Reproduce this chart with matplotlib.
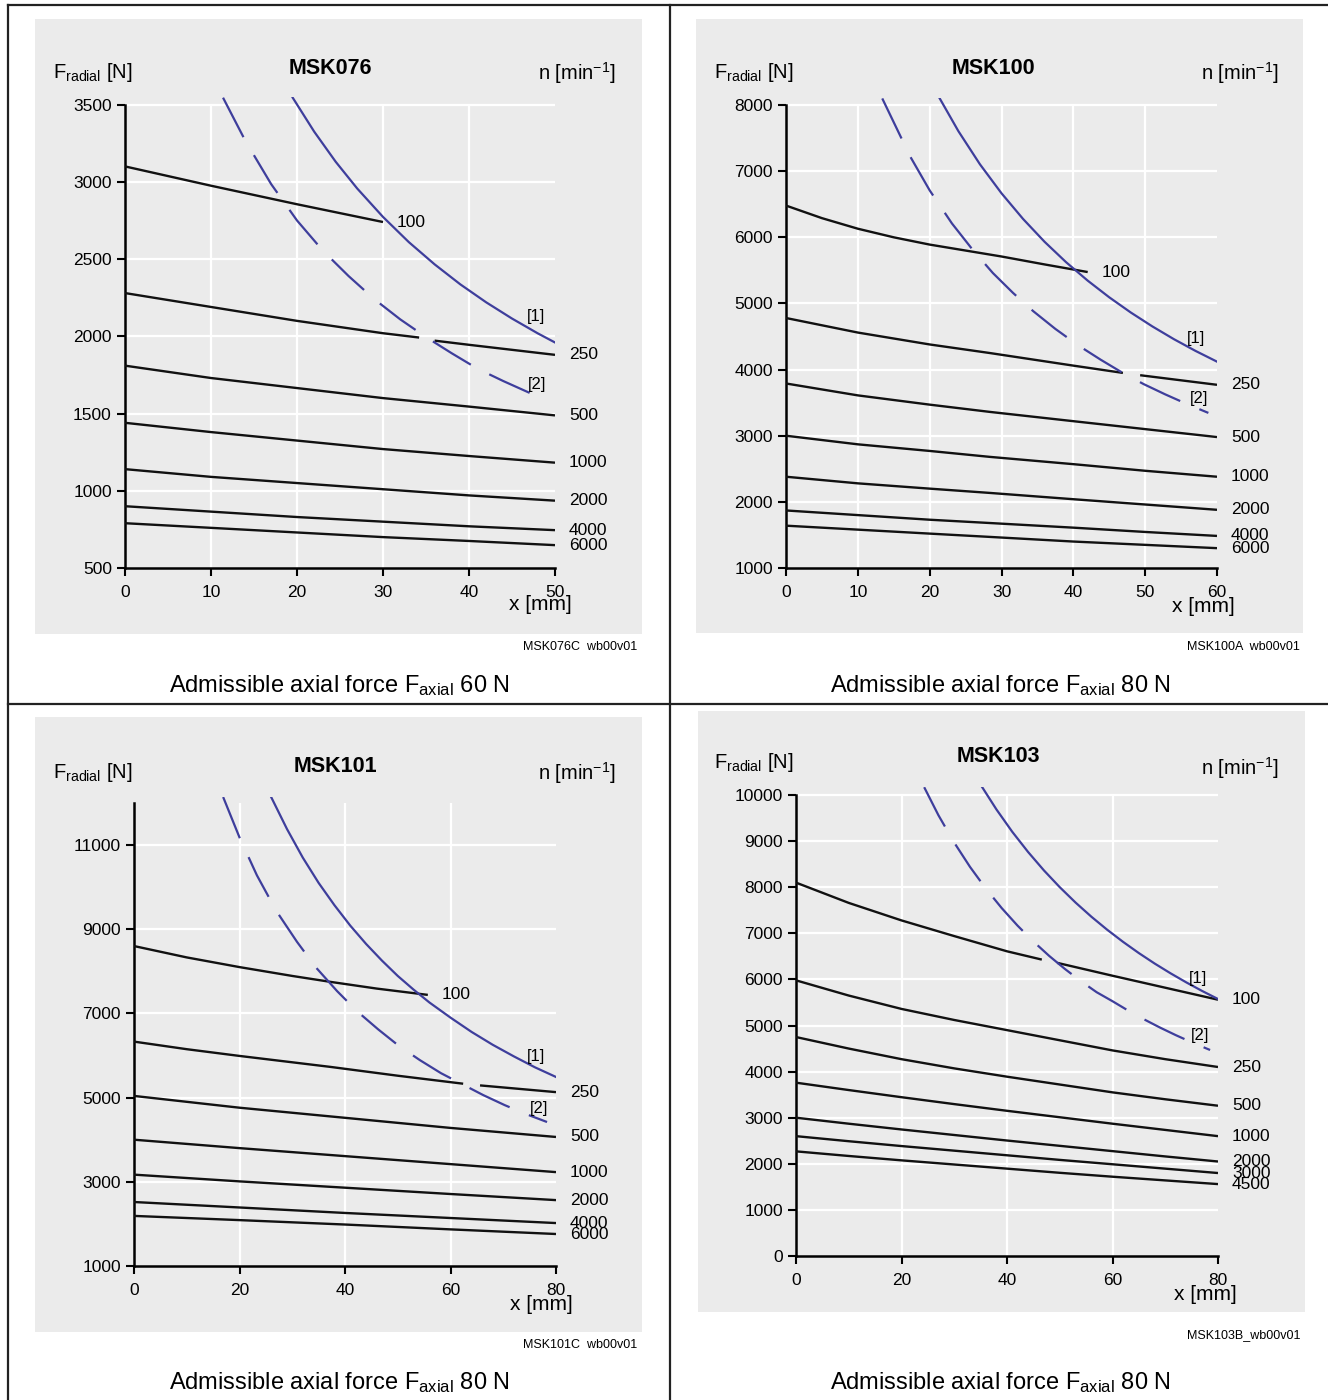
import numpy as np
import matplotlib
matplotlib.use('Agg')
import matplotlib.pyplot as plt
from matplotlib.patches import Rectangle
from matplotlib.lines import Line2D

nan = np.nan

plt.rcParams['font.family'] = 'Liberation Sans'
plt.rcParams['mathtext.fontset'] = 'custom'
plt.rcParams['mathtext.rm'] = 'Liberation Sans'
plt.rcParams['mathtext.it'] = 'Liberation Sans:italic'
plt.rcParams['mathtext.bf'] = 'Liberation Sans:bold'
plt.rcParams['lines.scale_dashes'] = False

# ---------------- data ----------------
# MSK076 (x 0..50 mm)
msk076_speeds = ['100', '250', '500', '1000', '2000', '4000', '6000']
msk076_x = [
    [0, 10, 20, 30],
    [0, 10, 20, 30, 34.2, nan, 36, 40, 50],
    [0, 10, 20, 30, 40, 50],
    [0, 10, 20, 30, 40, 50],
    [0, 10, 20, 30, 40, 50],
    [0, 10, 20, 30, 40, 50],
    [0, 10, 20, 30, 40, 50],
]
msk076_f = [
    [3100, 2975, 2855, 2740],
    [2280, 2190, 2100, 2020, 1992, nan, 1972, 1945, 1880],
    [1810, 1730, 1665, 1600, 1545, 1488],
    [1440, 1380, 1325, 1270, 1225, 1182],
    [1140, 1090, 1050, 1010, 970, 936],
    [900, 865, 830, 800, 770, 745],
    [790, 760, 730, 700, 675, 648],
]
msk076_b1_x = [19.5, 22, 24.5, 27, 30, 33, 36, 39, 42, 45, 48, 50]
msk076_b1_f = [3545, 3325, 3130, 2957, 2773, 2610, 2466, 2336, 2220, 2115, 2019, 1960]
msk076_b2_x = [11.4, 14, 17, 20, 23, 26, 29, 32, 35, 38, 41, 44, 47, 49.1]
msk076_b2_f = [3545, 3265, 2985, 2750, 2555, 2390, 2240, 2110, 1995, 1890, 1790, 1710, 1635, 1576]

# MSK100 (x 0..60 mm)
msk100_speeds = ['100', '250', '500', '1000', '2000', '4000', '6000']
msk100_x = [
    [0, 5, 10, 15, 20, 25, 30, 36, 42],
    [0, 10, 20, 28.4, 40, 46.9, nan, 49.3, 60],
    [0, 10, 20, 28.4, 40, 50, 60],
    [0, 10, 20, 28.4, 40, 50, 60],
    [0, 10, 20, 28.4, 40, 50, 60],
    [0, 10, 20, 28.4, 40, 50, 60],
    [0, 10, 20, 28.4, 40, 50, 60],
]
msk100_f = [
    [6480, 6290, 6130, 6000, 5890, 5800, 5710, 5590, 5475],
    [4780, 4560, 4380, 4250, 4060, 3950, nan, 3915, 3770],
    [3790, 3610, 3470, 3360, 3220, 3100, 2980],
    [3000, 2870, 2770, 2680, 2570, 2470, 2380],
    [2380, 2280, 2200, 2135, 2040, 1960, 1880],
    [1870, 1800, 1730, 1680, 1610, 1545, 1485],
    [1640, 1580, 1520, 1470, 1400, 1350, 1300],
]
msk100_b1_x = [21.4, 24, 27, 30, 33, 36, 39, 42, 45, 48, 51, 54, 57, 60]
msk100_b1_f = [8100, 7605, 7104, 6666, 6278, 5932, 5623, 5345, 5093, 4863, 4653, 4460, 4283, 4120]
msk100_b2_x = [13.4, 17.3, 20, 23.1, 26, 28.8, 31.6, 34.4, 37.5, 40.7, 43.8, 46.8, 49.8, 52.8, 55.8, 58.8]
msk100_b2_f = [8100, 7220, 6710, 6210, 5810, 5460, 5160, 4885, 4615, 4365, 4150, 3955, 3780, 3625, 3480, 3345]

# MSK101 (x 0..80 mm)
msk101_speeds = ['100', '250', '500', '1000', '2000', '4000', '6000']
msk101_x = [
    [0, 10, 20, 30, 37.2, 46, 55.7],
    [0, 10, 20, 37.2, 50, 62.4, nan, 65.6, 80],
    [0, 20, 40, 60, 80],
    [0, 20, 40, 60, 80],
    [0, 20, 40, 60, 80],
    [0, 20, 40, 60, 80],
    [0, 20, 40, 60, 80],
]
msk101_f = [
    [8600, 8330, 8100, 7890, 7750, 7590, 7440],
    [6330, 6150, 5990, 5730, 5520, 5330, nan, 5290, 5130],
    [5040, 4760, 4520, 4280, 4065],
    [4000, 3800, 3610, 3420, 3230],
    [3170, 3010, 2860, 2710, 2565],
    [2520, 2390, 2260, 2140, 2020],
    [2190, 2090, 1985, 1870, 1760],
]
msk101_b1_x = [26, 29, 32, 35, 38, 41, 44, 47, 50, 53, 56, 60, 64, 68, 72, 76, 80]
msk101_b1_f = [12140, 11380, 10700, 10100, 9570, 9085, 8650, 8255, 7890, 7565, 7260, 6900, 6560, 6255, 5980, 5720, 5490]
msk101_b2_x = [16.9, 20, 23.3, 27, 30.9, 34.5, 38.5, 42.3, 46.3, 50.2, 54.2, 58.2, 62.2, 66.2, 70.3, 74.3, 78.3]
msk101_b2_f = [12140, 11180, 10280, 9430, 8700, 8090, 7530, 7050, 6620, 6230, 5890, 5580, 5320, 5060, 4820, 4610, 4420]

# MSK103 (x 0..80 mm)
msk103_speeds = ['100', '250', '500', '1000', '2000', '3000', '4500']
msk103_x = [
    [0, 10, 20, 30, 40, 46.6, nan, 49.5, 60, 70, 80],
    [0, 10, 20, 30, 40, 50, 60, 70, 80],
    [0, 10, 20, 30, 40, 50, 60, 70, 80],
    [0, 10, 20, 30, 40, 50, 60, 70, 80],
    [0, 10, 20, 30, 40, 50, 60, 70, 80],
    [0, 10, 20, 30, 40, 50, 60, 70, 80],
    [0, 10, 20, 30, 40, 50, 60, 70, 80],
]
msk103_f = [
    [8100, 7660, 7280, 6940, 6610, 6430, nan, 6360, 6080, 5820, 5560],
    [5980, 5650, 5360, 5120, 4900, 4680, 4460, 4270, 4100],
    [4750, 4500, 4270, 4070, 3890, 3720, 3550, 3400, 3260],
    [3760, 3600, 3445, 3295, 3150, 3010, 2870, 2735, 2600],
    [3000, 2870, 2745, 2625, 2505, 2390, 2275, 2160, 2050],
    [2600, 2490, 2385, 2285, 2185, 2085, 1990, 1895, 1800],
    [2270, 2170, 2075, 1985, 1895, 1805, 1720, 1640, 1560],
]
msk103_b1_x = [35.3, 38, 41, 44, 47, 50, 53, 56, 59, 62, 65, 68, 71, 74, 77, 80]
msk103_b1_f = [10170, 9687, 9202, 8764, 8365, 8001, 7667, 7360, 7077, 6815, 6571, 6344, 6133, 5935, 5749, 5575]
msk103_b2_x = [24.3, 27, 30, 33, 36, 39, 42, 45, 48, 51, 54, 57, 60, 63, 66, 69, 72, 75, 78.5]
msk103_b2_f = [10170, 9562, 8967, 8439, 7969, 7547, 7167, 6823, 6510, 6225, 5963, 5722, 5527, 5322, 5133, 4956, 4791, 4637, 4469]

# ---------------- drawing ----------------
W, H = 1328, 1400
BLACK = '#111111'
BLUE = '#3e3e9c'
GREY = '#ebebeb'

fig = plt.figure(figsize=(W / 100, H / 100), dpi=100)


def fx(px):
    return px / W


def fy(py):
    return 1 - py / H


def grey_box(left, top, right, bottom):
    fig.patches.append(Rectangle((fx(left), fy(bottom)), (right - left) / W, (bottom - top) / H,
                                 transform=fig.transFigure, facecolor=GREY, edgecolor='none', zorder=-5))


def frame_line(x0, y0, x1, y1):
    fig.add_artist(Line2D([fx(x0), fx(x1)], [fy(y0), fy(y1)], transform=fig.transFigure,
                          color='#222222', lw=1.6, zorder=5))


def draw_chart(box, xmax, ylim, spine_top, xticks, yticks, speeds, cx, cf, b1x, b1f, b2x, b2f, tags):
    left, top, right, bottom = box
    ax = fig.add_axes([fx(left), fy(bottom), (right - left) / W, (bottom - top) / H])
    ax.set_zorder(2)
    ax.patch.set_visible(False)
    ax.set_xlim(0, xmax)
    ax.set_ylim(*ylim)
    ylo = ylim[0]

    ax.hlines(yticks[1:], 0, xmax, colors='white', lw=1.6, zorder=1)
    ax.vlines(xticks[1:-1], ylo, spine_top, colors='white', lw=1.6, zorder=1)

    for x, f, s in zip(cx, cf, speeds):
        ax.plot(x, f, color=BLACK, lw=1.7, zorder=3, solid_capstyle='butt', solid_joinstyle='round')
        ax.annotate(s, xy=(x[-1], f[-1]), xytext=(10, 0), textcoords='offset points',
                    ha='left', va='center', fontsize=12.5, annotation_clip=False)

    ax.plot(b1x, b1f, color=BLUE, lw=1.6, zorder=4, solid_joinstyle='round')
    ax.plot(b2x, b2f, color=BLUE, lw=1.6, ls=(0, (32, 15)), zorder=4)
    for (tx, ty), t in zip(tags, ['[1]', '[2]']):
        ax.text(tx, ty, t, ha='center', va='center', fontsize=12, zorder=5)

    ax.set_xticks(xticks)
    ax.set_yticks(yticks)
    for s in ['top', 'right']:
        ax.spines[s].set_visible(False)
    ax.spines['left'].set_bounds(ylo, spine_top)
    ax.spines['bottom'].set_bounds(0, xmax)
    ax.spines['left'].set_linewidth(1.8)
    ax.spines['bottom'].set_linewidth(1.8)
    ax.tick_params(axis='y', direction='out', length=6, width=1.5, pad=3.5, labelsize=12.5)
    ax.tick_params(axis='x', direction='out', length=6, width=1.5, pad=6, labelsize=12.5)
    return ax


def panel_texts(title, tx, ty, flx, fly, nrx, nry, xlab, foot, footxy, capxy, axial):
    fig.text(fx(tx), fy(ty), title, ha='center', va='center', fontsize=15.5, fontweight='bold')
    fig.text(fx(flx), fy(fly), r'F$_{\mathrm{radial}}$ [N]', ha='left', va='center', fontsize=14.5)
    fig.text(fx(nrx), fy(nry), r'n [min$^{-1}$]', ha='right', va='center', fontsize=14.5)
    fig.text(fx(xlab[0]), fy(xlab[1]), 'x [mm]', ha='center', va='center', fontsize=15)
    fig.text(fx(footxy[0]), fy(footxy[1]), foot, ha='right', va='center', fontsize=9)
    fig.text(fx(capxy[0]), fy(capxy[1]),
             r'Admissible axial force F$_{\mathrm{axial}}$ ' + axial, ha='center', va='center', fontsize=17)


# grey plot backgrounds
grey_box(35, 19, 642, 634)
grey_box(696, 19, 1303, 633)
grey_box(35, 717, 642, 1332)
grey_box(698, 711, 1305, 1312)

# table frame
frame_line(8, 5, W, 5)
frame_line(8, 5, 8, H)
frame_line(670, 5, 670, H)
frame_line(8, 704, W, 704)

draw_chart((125, 96.9, 555, 568), 50, (500, 3550), 3500,
           [0, 10, 20, 30, 40, 50], [500, 1000, 1500, 2000, 2500, 3000, 3500],
           msk076_speeds, msk076_x, msk076_f,
           msk076_b1_x, msk076_b1_f, msk076_b2_x, msk076_b2_f,
           [(47.8, 2128), (47.9, 1687)])
panel_texts('MSK076', 330, 68, 53, 73, 616, 73, (540, 605), 'MSK076C  wb00v01', (637, 647),
            (339, 686), '60 N')

draw_chart((786, 98.1, 1217, 568), 60, (1000, 8105), 8000,
           [0, 10, 20, 30, 40, 50, 60], [1000, 2000, 3000, 4000, 5000, 6000, 7000, 8000],
           msk100_speeds, msk100_x, msk100_f,
           msk100_b1_x, msk100_b1_f, msk100_b2_x, msk100_b2_f,
           [(57.1, 4477), (57.5, 3570)])
panel_texts('MSK100', 993, 68, 714, 73, 1279, 73, (1203, 606), 'MSK100A  wb00v01', (1300, 647),
            (1000, 686), '80 N')

draw_chart((134, 796.6, 556, 1266), 80, (1000, 12150), 12000,
           [0, 20, 40, 60, 80], [1000, 3000, 5000, 7000, 9000, 11000],
           msk101_speeds, msk101_x, msk101_f,
           msk101_b1_x, msk101_b1_f, msk101_b2_x, msk101_b2_f,
           [(76.2, 5988), (76.8, 4753)])
panel_texts('MSK101', 335, 767, 53, 773, 616, 773, (541, 1305), 'MSK101C  wb00v01', (637, 1345),
            (339, 1383), '80 N')

draw_chart((796, 787.2, 1218, 1256), 80, (0, 10170), 10000,
           [0, 20, 40, 60, 80], list(range(0, 10001, 1000)),
           msk103_speeds, msk103_x, msk103_f,
           msk103_b1_x, msk103_b1_f, msk103_b2_x, msk103_b2_f,
           [(76.2, 6030), (76.6, 4794)])
panel_texts('MSK103', 998, 757, 714, 762, 1279, 768, (1205, 1295), 'MSK103B_wb00v01', (1300, 1335),
            (1000, 1383), '80 N')

fig.savefig('out.png', dpi=100)
